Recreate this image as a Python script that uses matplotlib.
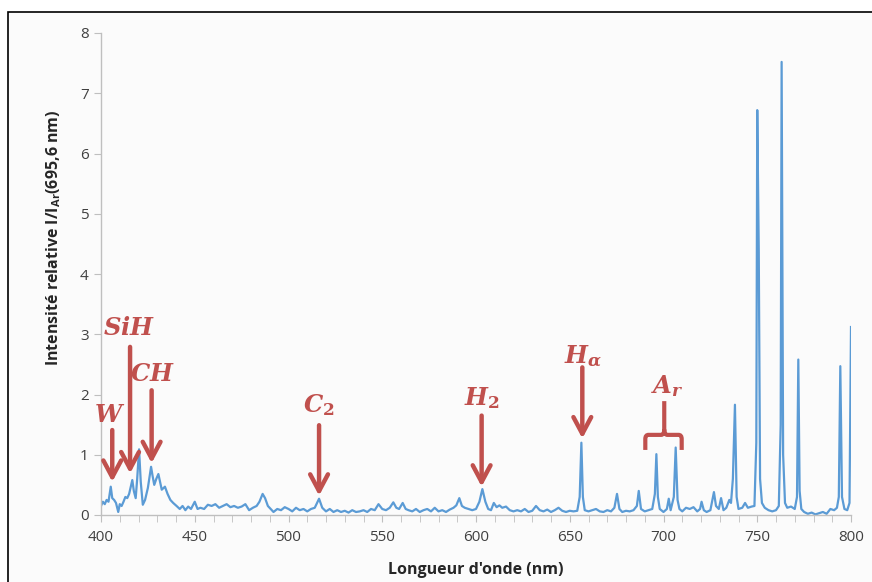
import numpy as np
import matplotlib
matplotlib.use('Agg')
import matplotlib.pyplot as plt
from matplotlib.path import Path
from matplotlib.patches import PathPatch, Rectangle
from matplotlib.ticker import MultipleLocator

plt.rcParams['font.family'] = ['Open Sans', 'DejaVu Sans']
plt.rcParams['mathtext.fontset'] = 'custom'
plt.rcParams['mathtext.it'] = 'DejaVu Serif:italic:bold'
plt.rcParams['mathtext.rm'] = 'DejaVu Serif:bold'
plt.rcParams['mathtext.bf'] = 'DejaVu Serif:bold'

############################## Data ##############################

wavelength = [
    400, 401, 402, 403, 404, 405.2, 406, 407, 408, 409.2, 410, 411, 412, 413, 414, 415,
    416.7, 417.5, 418.5, 419.3, 420.3, 421.2, 422.3, 423.5, 425, 426.7, 427.5, 428.4,
    429.5, 430.6, 431.5, 432.4, 434.1, 435.5, 437, 438.5, 440.3, 442, 443.5, 445, 446.5,
    448, 450, 451.5, 453, 455, 457, 459, 461, 463, 465, 467, 469, 471, 473, 475, 477, 479,
    481, 483, 484.5, 486.2, 487.5, 489, 490.5, 492, 494, 496, 498, 500, 502, 504, 506, 508,
    510, 512, 514, 516.3, 518, 520, 522, 524, 526, 528, 530, 532, 534, 536, 538, 540, 542,
    544, 546, 548, 550, 552, 554, 555.9, 557.5, 559, 560.9, 562.5, 564, 566, 568, 570, 572,
    574, 576, 578, 580, 582, 584, 586, 588, 589.5, 591.1, 592.5, 594, 596, 598, 600, 601.8,
    603.4, 605, 606.5, 608, 609.5, 611, 612.5, 614, 616, 618, 620, 622, 624, 626, 628, 630,
    632, 634, 636, 638, 640, 642, 644, 646, 648, 650, 652, 654, 655.3, 656.2, 657, 658, 660,
    662, 664, 666, 668, 670, 672, 673.8, 675.2, 676.5, 678, 680, 682, 684, 685.8, 686.8, 688,
    690, 692, 694, 695.4, 696.2, 697, 698, 700, 701.8, 702.8, 703.8, 705.5, 706.5, 707.5,
    708.5, 710, 712, 714, 716, 718, 719.5, 720.3, 721.5, 723, 725, 726.9, 728, 729.5, 730.7,
    732, 733.5, 735.1, 736, 737, 738.1, 739, 740, 742, 743.5, 745, 747, 748.5, 749.5, 750.0,
    750.8, 751.5, 752.5, 754, 756, 758, 760, 761.5, 762.5, 763.0, 763.8, 764.8, 766, 768,
    770, 771.2, 771.9, 772.6, 773.5, 775, 777, 779, 781, 783, 785, 787, 789, 791, 792.5,
    793.5, 794.3, 795.2, 796.5, 798, 799.2, 800,
]

intensity = [
    0.15, 0.22, 0.18, 0.25, 0.22, 0.47, 0.28, 0.25, 0.20, 0.05, 0.18, 0.15, 0.22, 0.30, 0.28, 0.35,
    0.58, 0.40, 0.28, 0.60, 1.09, 0.55, 0.17, 0.25, 0.45, 0.80, 0.65, 0.50,
    0.60, 0.68, 0.55, 0.42, 0.47, 0.35, 0.25, 0.20, 0.15, 0.10, 0.15, 0.08, 0.14,
    0.10, 0.22, 0.10, 0.12, 0.10, 0.17, 0.15, 0.18, 0.12, 0.15, 0.18, 0.13, 0.15, 0.12, 0.14, 0.18, 0.08,
    0.12, 0.15, 0.22, 0.35, 0.28, 0.15, 0.10, 0.05, 0.10, 0.08, 0.13, 0.10, 0.06, 0.12, 0.08, 0.10,
    0.06, 0.10, 0.12, 0.27, 0.12, 0.06, 0.10, 0.05, 0.08, 0.05, 0.07, 0.04, 0.08, 0.05, 0.06, 0.08, 0.05,
    0.10, 0.08, 0.18, 0.10, 0.08, 0.12, 0.21, 0.12, 0.10, 0.20, 0.10, 0.08, 0.06, 0.10, 0.05, 0.08,
    0.10, 0.06, 0.12, 0.06, 0.08, 0.05, 0.09, 0.12, 0.16, 0.28, 0.15, 0.12, 0.10, 0.08, 0.10, 0.22,
    0.43, 0.22, 0.10, 0.08, 0.20, 0.13, 0.16, 0.12, 0.14, 0.08, 0.06, 0.08, 0.06, 0.10, 0.05, 0.07,
    0.15, 0.08, 0.06, 0.09, 0.05, 0.08, 0.12, 0.07, 0.05, 0.07, 0.06, 0.07, 0.30, 1.20, 0.30, 0.08, 0.06,
    0.08, 0.10, 0.06, 0.05, 0.08, 0.06, 0.12, 0.35, 0.10, 0.05, 0.07, 0.06, 0.08, 0.15, 0.40, 0.10,
    0.06, 0.08, 0.10, 0.35, 1.01, 0.30, 0.10, 0.05, 0.10, 0.27, 0.08, 0.30, 1.12, 0.25,
    0.10, 0.06, 0.12, 0.10, 0.13, 0.06, 0.10, 0.22, 0.08, 0.05, 0.08, 0.38, 0.15, 0.10, 0.28,
    0.08, 0.12, 0.25, 0.20, 0.60, 1.83, 0.30, 0.10, 0.12, 0.20, 0.12, 0.14, 0.15, 1.20, 6.72,
    4.40, 0.60, 0.20, 0.12, 0.08, 0.06, 0.08, 0.15, 1.50, 7.52, 1.00, 0.20, 0.12, 0.14,
    0.10, 0.30, 2.58, 0.40, 0.10, 0.05, 0.02, 0.04, 0.01, 0.03, 0.05, 0.02, 0.10, 0.08, 0.12,
    0.30, 2.47, 0.30, 0.10, 0.08, 0.20, 3.12,
]

# species labels: (text, label x, label baseline y, arrow x, arrow tail y, arrow tip y)
species = [
    (r'$W$', 404.8, 1.54, 406.0, 1.41, 0.55),
    (r'$SiH$', 415.0, 2.98, 415.5, 2.79, 0.69),
    (r'$CH$', 427.2, 2.22, 427.0, 2.07, 0.86),
    (r'$C_2$', 516.1, 1.71, 516.3, 1.49, 0.32),
    (r'$H_2$', 603.2, 1.83, 603.0, 1.65, 0.47),
    (r'$H_\alpha$', 657.3, 2.52, 656.7, 2.45, 1.27),
]
argon_label = (r'$A_r$', 702.1, 2.02)

line_blue = '#5B9BD5'
red = '#C0504D'

############################################## Plot ################################################

fig = plt.figure(figsize=(8.72, 5.82), dpi=100)
fig.patch.set_facecolor('white')
frame = Rectangle((8 / 872, -0.1), 1.2, 1 - 12 / 582 + 0.1, transform=fig.transFigure,
                  facecolor='#fbfbfb', edgecolor='black', lw=1.2, zorder=-10)
fig.patches.append(frame)

ax = fig.add_axes([101 / 872, 67 / 582, 750 / 872, 482 / 582])
ax.set_facecolor('none')
ax.set_zorder(5)

ax.plot(wavelength, intensity, color=line_blue, lw=1.6, solid_joinstyle='round')

ax.set_xlim(400, 800)
ax.set_ylim(0, 8)
ax.xaxis.set_major_locator(MultipleLocator(50))
ax.xaxis.set_minor_locator(MultipleLocator(10))
ax.yaxis.set_major_locator(MultipleLocator(1))

for side in ['top', 'right']:
    ax.spines[side].set_visible(False)
for side in ['left', 'bottom']:
    ax.spines[side].set_color('#bfbfbf')
    ax.spines[side].set_linewidth(1.0)

ax.tick_params(axis='both', which='both', direction='out', color='#bfbfbf', length=5,
               labelsize=11, labelcolor='#404040', pad=4)
ax.tick_params(axis='x', pad=6)

ax.set_xlabel("Longueur d'onde (nm)", fontsize=11.5, fontweight='bold', color='#262626', labelpad=12)
ax.set_ylabel(r'Intensité relative I/I$_{\mathregular{Ar}}$(695,6 nm)', fontsize=11.5,
              fontweight='bold', color='#262626')
ax.yaxis.set_label_coords(-0.051, 0.575)

# arrows and species names
for label, lx, ly, axx, tail, tip in species:
    ax.text(lx, ly, label, color=red, fontsize=17.5, ha='center', va='baseline')
    ax.annotate('', xy=(axx, tip), xytext=(axx, tail),
                arrowprops=dict(arrowstyle='->, head_length=0.6, head_width=0.32',
                                lw=3.2, color=red, mutation_scale=20,
                                shrinkA=0, shrinkB=0))

# curly bracket over the two argon lines
ax.text(argon_label[1], argon_label[2], argon_label[0], color=red, fontsize=17.5,
        ha='center', va='baseline')
verts = [
    (690.3, 1.08), (690.3, 1.26), (690.3, 1.33), (692.0, 1.33), (698.7, 1.33),
    (700.4, 1.33), (700.4, 1.42), (700.4, 1.89),
    (700.4, 1.42), (700.4, 1.33), (702.1, 1.33), (708.0, 1.33),
    (709.7, 1.33), (709.7, 1.26), (709.7, 1.08),
]
codes = [
    Path.MOVETO, Path.LINETO, Path.CURVE3, Path.CURVE3, Path.LINETO,
    Path.CURVE3, Path.CURVE3, Path.LINETO,
    Path.MOVETO, Path.CURVE3, Path.CURVE3, Path.LINETO,
    Path.CURVE3, Path.CURVE3, Path.LINETO,
]
ax.add_patch(PathPatch(Path(verts, codes), fill=False, edgecolor=red, lw=3.0, capstyle='butt'))

fig.savefig('out.png', dpi=100, facecolor=fig.get_facecolor())
